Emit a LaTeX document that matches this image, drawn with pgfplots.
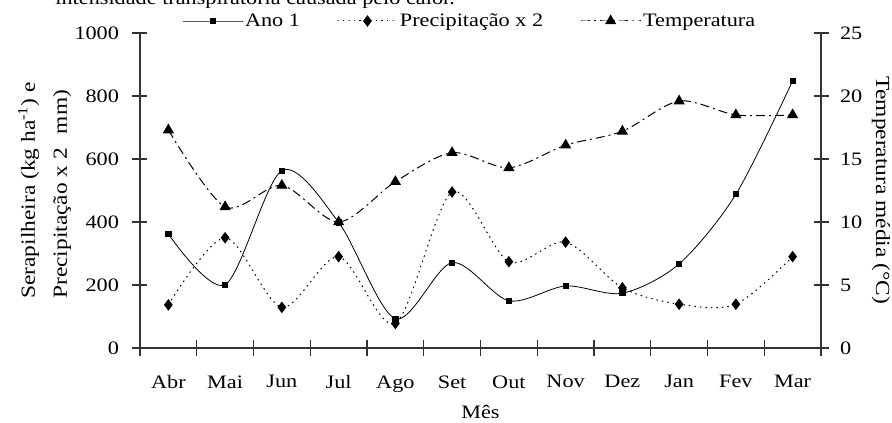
\documentclass[border=0pt]{standalone}
\usepackage{fontspec}
\setmainfont{Liberation Serif}[FakeStretch=1.17]
\usepackage{pgfplots}
\pgfplotsset{compat=1.18}
\begin{document}
\begin{tikzpicture}[x=1pt,y=1pt]
\pgfplotsset{
 base/.style={
  width=681pt, height=315pt, scale only axis, at={(0,0)}, anchor=south west,
  xmin=-0.5, xmax=11.5,
  font=\fontsize{19}{22}\selectfont,
  tick align=center,
  major tick length=15pt, minor tick length=15pt,
  axis line style={line width=1.1pt, black!80},
  every tick/.style={line width=1.1pt, black!80},
  /pgf/number format/assume math mode=true,
  /pgf/number format/1000 sep={},
  clip=false,
 },
 ano/.style={black, line width=0.8pt, smooth, tension=0.5, mark=square*, mark size=2.6pt, mark options={solid}},
 prec/.style={black, line width=1pt, dash pattern=on 1.5pt off 4pt, smooth, tension=0.5, mark=diamond*, mark size=5pt, mark options={solid}},
 temp/.style={black, line width=1pt, dash pattern=on 9pt off 4pt on 2pt off 4pt, smooth, tension=0.5, mark=triangle*, mark size=5.5pt, mark options={solid}},
}
\begin{axis}[base,
  ymin=0, ymax=1000, ytick={0,200,...,1000},
  axis x line*=bottom, axis y line*=left,
  xtick={-0.5,0.5,...,11.5}, xticklabels={},
  extra x ticks={0,1,...,11},
  extra x tick labels={Abr,Mai,Jun,Jul,Ago,Set,Out,Nov,Dez,Jan,Fev,Mar},
  extra x tick style={major tick length=0pt, xticklabel style={yshift=-24pt}},
  yticklabel style={xshift=-10pt},
  xlabel={Mês},
  xlabel style={at={(axis description cs:0.5,0)}, anchor=center, yshift=-64pt},
  ylabel={\begin{tabular}{@{}l@{}}Serapilheira (kg ha\textsuperscript{-1}) e\\[9pt]Precipitação x 2 \phantom{(}mm)\end{tabular}},
  ylabel style={at={(axis description cs:-0.138,0.5)}, anchor=center, font=\fontsize{20}{23}\selectfont},
  legend style={at={(axis description cs:0.0617,1)}, anchor=west, yshift=12pt, draw=none, fill=none, inner sep=0pt,
    legend columns=3, /tikz/every even column/.append style={column sep=35pt}, font=\fontsize{19}{22}\selectfont},
  legend cell align=left,
  legend image code/.code={\draw[mark repeat=2, mark phase=2] plot coordinates {(0pt,0pt)(30pt,0pt)(60pt,0pt)};},
]
\addplot[ano] coordinates {(0,362)(1,201)(2,563)(3,399)(4,93)(5,271)(6,150)(7,197)(8,174)(9,267)(10,488)(11,848)};
\addlegendentry{Ano 1}
\addplot[prec] coordinates {(0,137)(1,350)(2,129)(3,290)(4,78)(5,495)(6,274)(7,336)(8,191)(9,139)(10,139)(11,290)};
\addlegendentry{Precipitação x 2}
\addlegendimage{temp}
\addlegendentry{Temperatura}
\end{axis}
\begin{axis}[base,
  ymin=0, ymax=25, ytick={0,5,...,25},
  axis x line=none, axis y line*=right,
  yticklabel style={xshift=8pt},
  ylabel={Temperatura média (°C)},
  ylabel style={at={(axis description cs:1.088,0.5)}, anchor=center, rotate=180, font=\fontsize{20}{23}\selectfont},
]
\addplot[temp] coordinates {(0,17.3)(1,11.2)(2,12.9)(3,10.0)(4,13.2)(5,15.5)(6,14.3)(7,16.1)(8,17.2)(9,19.6)(10,18.5)(11,18.5)};
\end{axis}
\begin{scope}
\clip (-140,-75) rectangle (752,348);
\node[anchor=base east, inner sep=0pt, font=\fontsize{19}{22}\selectfont] at (315,343) {intensidade transpiratória causada pelo calor.};
\end{scope}
\pgfresetboundingbox
\useasboundingbox (-140,-75) rectangle (752,348);
\end{tikzpicture}
\end{document}
